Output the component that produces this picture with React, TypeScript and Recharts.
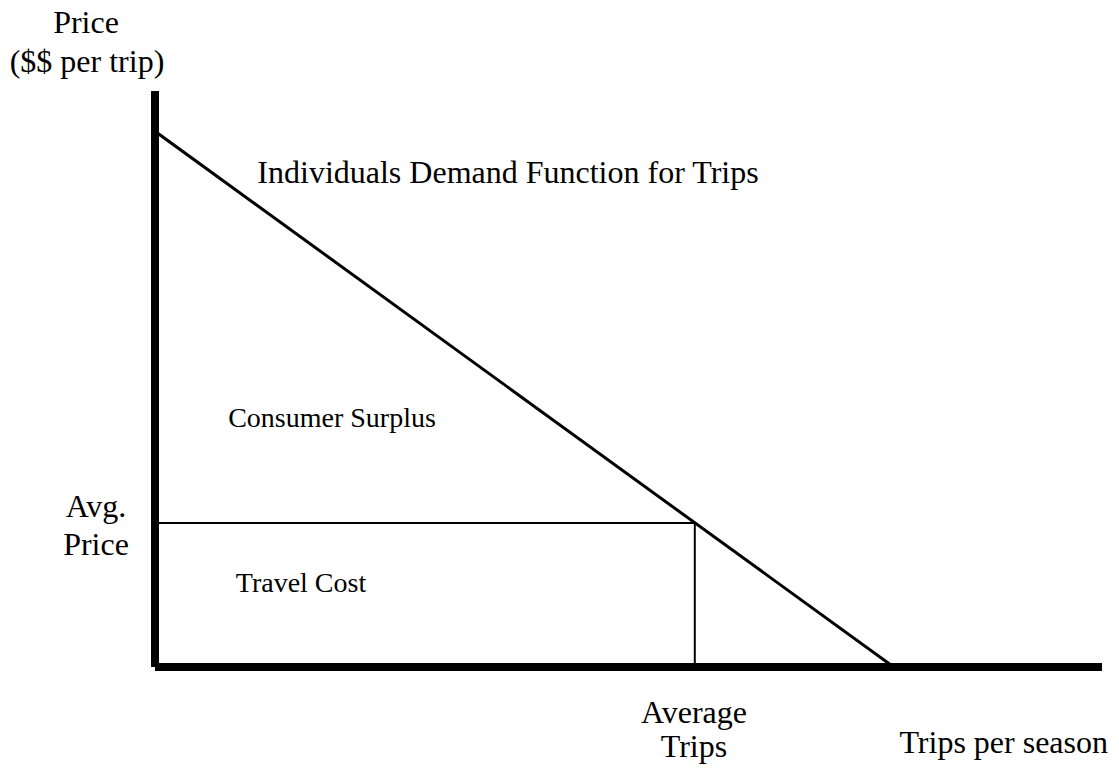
import React from 'react';
import { ComposedChart, Line, XAxis, YAxis, Customized } from 'recharts';

// demand curve: price intercept and trip intercept (chart units 0-100)
const demandTrips = [0, 78];
const demandPrice = [93, 0];

// average trips / average price point
const avgTrips = 57;
const avgPrice = 25;

const demandData = demandTrips.map((q, i) => ({ q, p: demandPrice[i] }));
const boxData = [
  { q: 0, p: avgPrice },
  { q: avgTrips, p: avgPrice },
  { q: avgTrips, p: 0 },
];

const FONT = '"Liberation Serif", "Times New Roman", serif';

if (typeof document !== 'undefined') document.body.style.margin = '0';

const Labels = () => (
  <g fontFamily={FONT} fill="#000">
    <text x={86} y={33} fontSize={32} textAnchor="middle">Price</text>
    <text x={87} y={72} fontSize={32} textAnchor="middle">($$ per trip)</text>
    <text x={508} y={183} fontSize={32} textAnchor="middle">Individuals Demand Function for Trips</text>
    <text x={332} y={427} fontSize={28} textAnchor="middle">Consumer Surplus</text>
    <text x={96} y={517} fontSize={32} textAnchor="middle">Avg.</text>
    <text x={96} y={555} fontSize={32} textAnchor="middle">Price</text>
    <text x={301} y={592} fontSize={28} textAnchor="middle">Travel Cost</text>
    <text x={694} y={723} fontSize={32} textAnchor="middle">Average</text>
    <text x={694} y={757} fontSize={32} textAnchor="middle">Trips</text>
    <text x={1108} y={753} fontSize={32} textAnchor="end">Trips per season</text>
  </g>
);

export default function App() {
  return (
    <ComposedChart width={1119} height={772} margin={{ top: 91, right: 17, bottom: 104, left: 154 }}>
      <XAxis type="number" dataKey="q" domain={[0, 100]} height={1} tick={false} tickLine={false}
        axisLine={{ stroke: '#000', strokeWidth: 8 }} allowDataOverflow />
      <YAxis type="number" dataKey="p" domain={[0, 100]} width={1} tick={false} tickLine={false}
        axisLine={{ stroke: '#000', strokeWidth: 8 }} allowDataOverflow />
      <Line data={boxData} dataKey="p" type="linear" stroke="#000" strokeWidth={2} dot={false}
        isAnimationActive={false} />
      <Line data={demandData} dataKey="p" type="linear" stroke="#000" strokeWidth={3} dot={false}
        isAnimationActive={false} />
      <Customized component={Labels} />
    </ComposedChart>
  );
}
